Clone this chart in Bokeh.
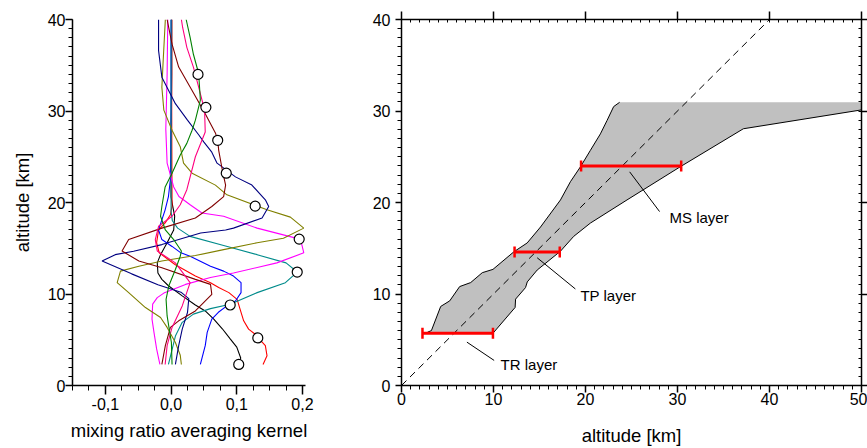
import numpy as np
from bokeh.plotting import figure
from bokeh.layouts import row
from bokeh.models import (FixedTicker, SingleIntervalTicker, LinearAxis, Range1d)
from bokeh.embed import file_html
from bokeh.resources import INLINE
from bokeh.core.properties import value

FONT = "Liberation Sans"

# ---------------- left panel data: averaging kernels ----------------
black_x = [0.103, 0.106, 0.100, 0.090, 0.078, 0.065, 0.052, 0.037, 0.017, -0.004, -0.014, -0.020, -0.021, -0.016, -0.006, 0.004, 0.0055, 0.0025, 0.000, 0.000, 0.001, 0.001]
black_y = [2.3, 3.0, 4.2, 5.1, 6.2, 7.25, 8.15, 8.8, 9.8, 10.9, 11.6, 12.3, 13.4, 14.3, 15.6, 17.0, 18.5, 19.6, 20.6, 27, 34, 40]

red_x = [0.140, 0.146, 0.1435, 0.132, 0.128, 0.118, 0.1105, 0.105, 0.1005, 0.088, 0.0725, 0.060, 0.037, 0.0065, -0.018, -0.022, -0.019, -0.009, -0.001, 0.0015, 0.001, 0.001]
red_y = [2.3, 3.26, 4.35, 5.26, 5.6, 6.16, 7.07, 8.34, 9.42, 10.15, 10.7, 11.24, 11.96, 13.2, 14.5, 15.6, 17.0, 17.76, 18.66, 19.6, 30, 40]

blue_x = [0.0446, 0.052, 0.055, 0.062, 0.072, 0.085, 0.098, 0.1065, 0.1065, 0.095, 0.080, 0.060, 0.029, 0.015, 0.0015, -0.014, -0.019, -0.014, -0.009, -0.004, -0.001, 0.0, 0.0]
blue_y = [2.3, 4.35, 5.8, 7.25, 8.0, 8.7, 9.24, 10.15, 11.24, 11.96, 12.5, 13.04, 14.13, 14.5, 15.2, 15.95, 17.0, 18.1, 19.2, 20.65, 22.5, 30, 40]

teal_x = [-0.004, 0.0066, 0.017, 0.034, 0.060, 0.090, 0.131, 0.174, 0.192, 0.175, 0.131, 0.080, 0.029, 0.010, 0.002, 0.0, 0.0]
teal_y = [2.3, 5.4, 6.9, 7.8, 8.4, 8.88, 10.15, 11.24, 12.4, 13.4, 14.3, 15.3, 16.3, 17.2, 18.0, 19.0, 40]

magenta_x = [-0.017, -0.022, -0.026, -0.029, -0.028, -0.021, -0.011, 0.022, 0.060, 0.095, 0.161, 0.202, 0.199, 0.196, 0.131, 0.080, 0.047, 0.029, 0.012, 0.004, -0.006, -0.008, -0.006, -0.005]
magenta_y = [2.3, 4.0, 5.8, 7.25, 8.9, 9.6, 10.1, 11.05, 11.8, 12.3, 13.4, 14.5, 15.4, 16.0, 17.2, 18.5, 18.85, 19.75, 20.65, 21.7, 24.3, 28, 34, 40]

olive_x = [0.0157, 0.014, 0.0066, -0.006, -0.016, -0.039, -0.0645, -0.082, -0.077, -0.049, -0.014, 0.037, 0.080, 0.131, 0.171, 0.202, 0.1816, 0.146, 0.085, 0.0675, 0.032, 0.019, 0.014, 0.0015, -0.011, -0.014, -0.012, -0.0087]
olive_y = [2.3, 3.3, 4.7, 6.35, 7.43, 8.52, 10.15, 11.24, 12.5, 13.04, 13.6, 14.2, 14.85, 15.6, 16.1, 17.2, 18.4, 19.2, 20.84, 21.9, 23.2, 24.3, 26.1, 27.9, 30.1, 32.6, 35.5, 40]

navy_x = [0.0066, 0.0116, 0.017, 0.025, 0.027, 0.015, -0.020, -0.060, -0.105, -0.085, -0.057, -0.014, 0.045, 0.083, 0.095, 0.1385, 0.1486, 0.1435, 0.123, 0.098, 0.070, 0.062, 0.050, 0.042, 0.025, 0.0066, -0.014, -0.019, -0.019]
navy_y = [2.3, 4.35, 6.16, 7.98, 9.5, 10.2, 11.0, 12.2, 13.6, 14.3, 14.67, 15.4, 16.67, 17.0, 17.2, 18.3, 19.56, 20.3, 21.9, 22.8, 24.3, 25.5, 26.6, 27.4, 29.0, 30.8, 33.7, 36.6, 40]

maroon_x = [-0.014, -0.0087, -0.001, 0.0116, 0.037, 0.062, 0.060, 0.037, -0.014, -0.049, -0.0746, -0.0645, -0.014, 0.037, 0.062, 0.080, 0.083, 0.078, 0.0725, 0.071, 0.0675, 0.052, 0.032, 0.0116, 0.0015, -0.006]
maroon_y = [2.3, 4.35, 6.35, 7.07, 8.15, 9.97, 11.05, 11.6, 12.87, 13.6, 14.7, 15.95, 17.2, 18.3, 19.56, 20.65, 21.9, 23.55, 25.7, 26.8, 27.6, 29.7, 32.25, 34.8, 37.3, 40]

pink_x = [-0.009, -0.006, 0.0015, 0.017, 0.029, 0.0066, -0.021, -0.024, -0.019, 0.0015, 0.014, 0.024, 0.037, 0.047, 0.052, 0.051, 0.042, 0.034, 0.024, 0.0177, 0.0157]
pink_y = [2.3, 4.35, 6.35, 8.7, 11.24, 13.4, 14.7, 15.95, 17.4, 18.5, 19.75, 21.4, 25.0, 26.8, 27.7, 30.1, 32.6, 34.8, 36.96, 39.1, 40]

green_x = [0.0015, 0.0005, -0.006, -0.0076, -0.0035, 0.0066, 0.014, 0.0157, 0.004, -0.0087, -0.016, -0.014, -0.009, 0.0015, 0.014, 0.024, 0.032, 0.037, 0.0446, 0.042, 0.034, 0.029, 0.023]
green_y = [2.3, 4.7, 7.6, 9.42, 10.87, 12.68, 14.13, 14.7, 15.95, 17.0, 18.5, 19.56, 21.7, 23.2, 25.2, 26.46, 27.9, 29.0, 31.2, 34.1, 36.2, 38.04, 40]

circle_x = [0.103, 0.132, 0.090, 0.192, 0.195, 0.128, 0.084, 0.071, 0.053, 0.041]
circle_y = [2.3, 5.2, 8.8, 12.4, 16.0, 19.6, 23.2, 26.8, 30.4, 34.0]

x_ticks_left = [-0.1, 0.0, 0.1, 0.2]
x_tick_labels_left = ["-0,1", "0,0", "0,1", "0,2"]

# ---------------- right panel data ----------------
left_edge_x = [2.27, 2.82, 3.25, 4.26, 5.24, 6.32, 7.52, 8.78, 9.94, 12.21, 13.66, 15.11, 17.28, 18.36, 19.45, 20.53, 21.62, 22.34, 23.06, 23.71]
left_edge_y = [5.71, 5.82, 6.0, 8.64, 9.25, 10.81, 11.25, 12.33, 12.69, 14.61, 15.58, 17.32, 20.28, 22.27, 23.9, 25.7, 27.5, 28.96, 30.48, 30.95]
right_edge_x = [50.0, 37.16, 30.29, 24.51, 20.53, 18.72, 17.28, 14.75, 13.67, 13.48, 12.4, 12.35, 9.94]
right_edge_y = [30.12, 28.06, 23.9, 20.28, 17.75, 16.3, 14.68, 12.62, 11.32, 10.7, 9.44, 8.53, 5.71]
top_y = 30.95

diag_x = [0, 50]
diag_y = [0, 50]

layer_names = ["TR layer", "TP layer", "MS layer"]
layer_alt = [5.71, 14.6, 24.0]
layer_lo = [2.28, 12.29, 19.52]
layer_hi = [9.94, 17.2, 30.4]
leader_x0 = [7.11, 14.75, 24.8]
leader_y0 = [4.74, 13.96, 23.35]
leader_x1 = [10.07, 18.9, 28.05]
leader_y1 = [2.74, 10.55, 19.01]
label_x = [10.77, 19.45, 29.13]
label_y = [2.3, 9.87, 18.38]


def style_axis(ax, tick_out, minor_out, standoff, minor_in=0):
    ax.axis_line_width = 1.5
    ax.axis_line_color = "black"
    ax.major_tick_line_width = 1.5
    ax.major_tick_line_color = "black"
    ax.minor_tick_line_width = 1
    ax.minor_tick_line_color = "black"
    ax.major_tick_out = tick_out
    ax.major_tick_in = 0
    ax.minor_tick_out = minor_out
    ax.minor_tick_in = minor_in
    ax.major_label_text_font = FONT
    ax.major_label_text_font_size = "16px"
    ax.major_label_text_color = "black"
    ax.major_label_standoff = standoff
    ax.axis_label_text_font = FONT
    ax.axis_label_text_font_style = "normal"
    ax.axis_label_text_font_size = "18.5px"
    ax.axis_label_text_color = "black"


# ---------------- left figure ----------------
p1 = figure(width=315, height=448, x_range=Range1d(-0.15, 0.2046), y_range=Range1d(0, 40),
            output_backend="svg", toolbar_location=None,
            min_border_left=72, min_border_right=10, min_border_top=19, min_border_bottom=61)
p1.outline_line_color = None
p1.grid.visible = False

series = [(black_x, black_y, "#000000"), (red_x, red_y, "#ff0000"), (blue_x, blue_y, "#0000ff"),
          (teal_x, teal_y, "#008b8b"), (magenta_x, magenta_y, "#ff00ff"), (olive_x, olive_y, "#808000"),
          (navy_x, navy_y, "#000080"), (maroon_x, maroon_y, "#800000"), (pink_x, pink_y, "#ff0080"),
          (green_x, green_y, "#008000")]
for xs, ys, c in series:
    p1.line(xs, ys, line_color=c, line_width=1.1)
p1.scatter(circle_x, circle_y, marker="circle", size=10, fill_color="white",
           line_color="black", line_width=1.2)

xa = p1.xaxis[0]
xa.ticker = FixedTicker(ticks=x_ticks_left, minor_ticks=list(np.round(np.arange(-0.15, 0.21, 0.025), 3)))
xa.major_label_overrides = {t: l for t, l in zip(x_ticks_left, x_tick_labels_left)}
style_axis(xa, 9, 5, 3)
xa.axis_label = "mixing ratio averaging kernel"
xa.axis_label_standoff = 7

ya = p1.yaxis[0]
ya.ticker = SingleIntervalTicker(interval=10, num_minor_ticks=10)
style_axis(ya, 7, 4, 0)
ya.axis_label = "altitude [km]"
ya.axis_label_standoff = 12

# ---------------- right figure ----------------
p2 = figure(width=552, height=448, x_range=Range1d(0, 50), y_range=Range1d(0, 40),
            output_backend="svg", toolbar_location=None,
            min_border_left=86, min_border_right=6, min_border_top=19, min_border_bottom=61)
p2.outline_line_color = None
p2.grid.visible = False

poly_x = left_edge_x + [right_edge_x[0]] + right_edge_x
poly_y = left_edge_y + [top_y] + right_edge_y
p2.patch(poly_x, poly_y, fill_color="#c0c0c0", line_color=None)
p2.line(left_edge_x[1:], left_edge_y[1:], line_color="black", line_width=1)
p2.line(right_edge_x, right_edge_y, line_color="black", line_width=1)
p2.line(diag_x, diag_y, line_color="black", line_width=1, line_dash="7 5")

p2.segment(x0=leader_x0, y0=leader_y0, x1=leader_x1, y1=leader_y1, line_color="black", line_width=1)
p2.text(x=label_x, y=label_y, text=layer_names, text_font=value(FONT), text_font_size="15px",
        text_baseline="middle", text_align="left", text_color="black")

# red layer bars with end caps
p2.segment(x0=layer_lo, y0=layer_alt, x1=layer_hi, y1=layer_alt, line_color="red", line_width=3)
p2.scatter(layer_lo + layer_hi, layer_alt + layer_alt, marker="dash", angle=np.pi / 2,
           size=11, line_color="red", line_width=2.5)

bx = p2.xaxis[0]
bx.ticker = SingleIntervalTicker(interval=10, num_minor_ticks=10)
style_axis(bx, 7, 4, 0)
bx.axis_label = "altitude [km]"
bx.axis_label_standoff = 17

ly = p2.yaxis[0]
ly.ticker = SingleIntervalTicker(interval=10, num_minor_ticks=10)
style_axis(ly, 6, 4, 5)

frame_ticks = [0, 10, 20, 30, 40, 50]
top = LinearAxis(ticker=SingleIntervalTicker(interval=10, num_minor_ticks=10))
style_axis(top, 8, 0, 0, minor_in=3)
top.major_label_overrides = {t: "" for t in frame_ticks}
top.major_label_text_font_size = "1px"
p2.add_layout(top, "above")

rt = LinearAxis(ticker=SingleIntervalTicker(interval=10, num_minor_ticks=10))
style_axis(rt, 6, 0, 0, minor_in=3)
rt.major_label_overrides = {t: "" for t in frame_ticks}
rt.major_label_text_font_size = "1px"
p2.add_layout(rt, "right")

layout = row(p1, p2)
open("out.html", "w").write(file_html(layout, INLINE))
